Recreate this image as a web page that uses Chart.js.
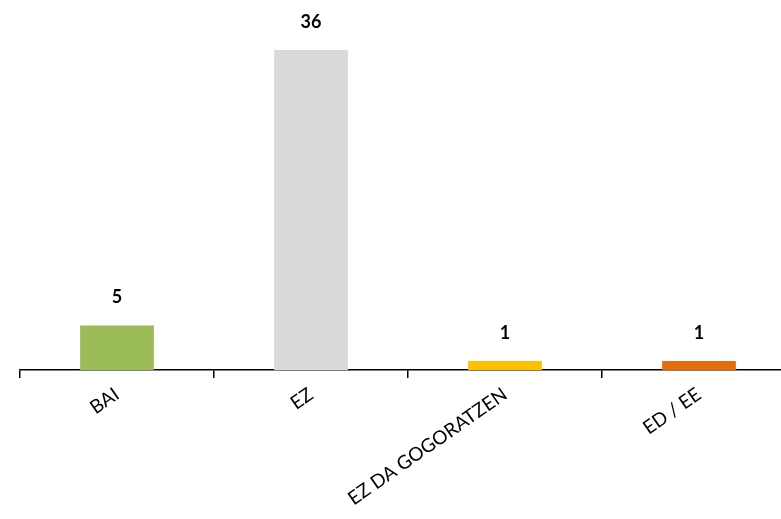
<!DOCTYPE html>
<html>
<head>
<meta charset="utf-8">
<script src="https://cdn.jsdelivr.net/npm/chart.js@4/dist/chart.umd.min.js"></script>
<style>
  html, body { margin: 0; padding: 0; background: #fff; overflow: hidden; width: 781px; height: 519px; }
  #wrap { position: absolute; left: 0; top: 0; width: 820px; height: 519px; }
</style>
</head>
<body>
<div id="wrap"><canvas id="c" width="820" height="519"></canvas></div>
<script>
const categories = ["BAI", "EZ", "EZ DA GOGORATZEN", "ED / EE"];
const values = [5, 36, 1, 1];
const barColors = ["#9BBB59", "#D9D9D9", "#FFC000", "#E46C0A"];

const valueLabels = {
  id: 'valueLabels',
  afterDatasetsDraw(chart) {
    const ctx = chart.ctx;
    const meta = chart.getDatasetMeta(0);
    ctx.save();
    ctx.font = 'bold 18px Lato, "Open Sans", sans-serif';
    ctx.fillStyle = '#000';
    ctx.textAlign = 'center';
    ctx.textBaseline = 'middle';
    meta.data.forEach((bar, i) => {
      ctx.fillText(String(values[i]), bar.x, bar.y - 28);
    });
    ctx.restore();
  }
};

new Chart(document.getElementById('c'), {
  type: 'bar',
  data: {
    labels: categories,
    datasets: [{
      data: values,
      backgroundColor: barColors,
      borderWidth: 0,
      categoryPercentage: 1,
      barPercentage: 0.38
    }]
  },
  options: {
    responsive: false,
    animation: false,
    layout: { padding: { left: 20, right: 24, top: 10, bottom: 0 } },
    plugins: { legend: { display: false }, tooltip: { enabled: false } },
    scales: {
      y: { display: false, min: 0, max: 40.5 },
      x: {
        afterFit(s) { s.height = 149; },
        border: { display: true, color: '#000', width: 1.5 },
        grid: { display: true, drawOnChartArea: false, drawTicks: true, tickLength: 8, color: '#000', lineWidth: 1.5, offset: true },
        ticks: {
          minRotation: 35, maxRotation: 35, autoSkip: false,
          color: '#000', padding: 5,
          font: { family: 'Lato, "Open Sans", sans-serif', size: 19 }
        }
      }
    }
  },
  plugins: [valueLabels]
});
</script>
</body>
</html>
